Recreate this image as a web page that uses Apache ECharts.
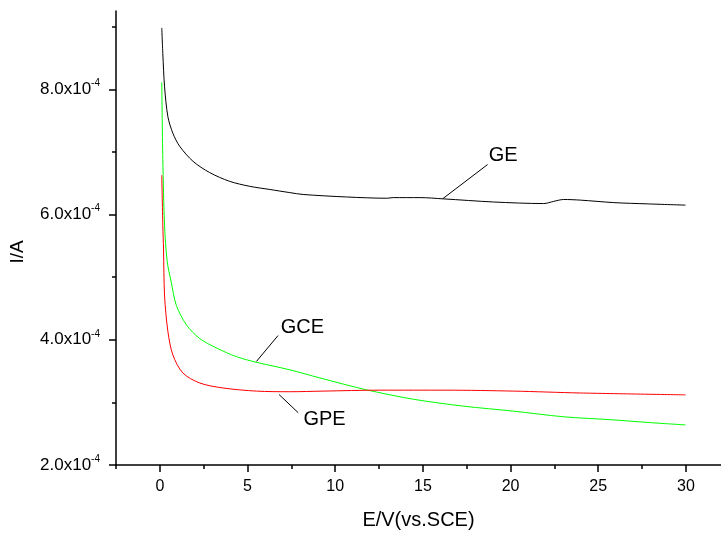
<!DOCTYPE html>
<html>
<head>
<meta charset="utf-8">
<script src="https://cdn.jsdelivr.net/npm/echarts@6/dist/echarts.min.js"></script>
<style>
  html, body { margin: 0; padding: 0; background: #fff; }
  #main { width: 721px; height: 535px; }
</style>
</head>
<body>
<div id="main"></div>
<script>
// curves: [E, I]
const geData = [
  [0.11, 8.98e-4], [0.17, 8.57e-4], [0.27, 8.04e-4], [0.46, 7.56e-4], [0.74, 7.30e-4],
  [1.13, 7.09e-4], [1.89, 6.85e-4], [2.84, 6.67e-4], [3.98, 6.53e-4], [5.13, 6.45e-4],
  [6.27, 6.40e-4], [7.41, 6.35e-4], [8.17, 6.32e-4], [10.65, 6.28e-4], [12.94, 6.26e-4],
  [13.31, 6.27e-4], [14.84, 6.27e-4], [16.17, 6.25e-4], [19.03, 6.20e-4], [21.89, 6.175e-4],
  [22.46, 6.21e-4], [23.03, 6.24e-4], [23.98, 6.23e-4], [25.89, 6.19e-4], [27.79, 6.17e-4],
  [29.98, 6.15e-4]
];
const gceData = [
  [0.11, 8.11e-4], [0.17, 6.88e-4], [0.27, 5.82e-4], [0.42, 5.25e-4], [0.65, 4.92e-4],
  [0.94, 4.55e-4], [1.51, 4.24e-4], [2.27, 4.02e-4], [3.22, 3.87e-4], [4.37, 3.73e-4],
  [5.51, 3.64e-4], [7.41, 3.52e-4], [9.13, 3.39e-4], [11.79, 3.20e-4], [14.46, 3.05e-4],
  [17.31, 2.94e-4], [20.17, 2.86e-4], [23.03, 2.77e-4], [25.89, 2.72e-4], [27.79, 2.68e-4],
  [29.98, 2.64e-4]
];
const gpeData = [
  [0.11, 6.63e-4], [0.17, 5.82e-4], [0.21, 5.45e-4], [0.27, 4.70e-4], [0.46, 4.13e-4],
  [0.74, 3.76e-4], [1.31, 3.47e-4], [2.27, 3.31e-4], [3.60, 3.23e-4], [5.51, 3.18e-4],
  [7.41, 3.17e-4], [9.31, 3.18e-4], [12.55, 3.195e-4], [16.37, 3.195e-4], [20.17, 3.18e-4],
  [23.98, 3.15e-4], [29.98, 3.12e-4]
];

// annotation labels and leader lines
const noteLabels = [[19.58, 6.95e-4, 'GE'], [8.13, 4.20e-4, 'GCE'], [9.39, 2.72e-4, 'GPE']];
const noteLines = [
  [[16.14, 6.254e-4], [18.69, 6.798e-4]],
  [[5.51, 3.655e-4], [6.74, 4.067e-4]],
  [[6.80, 3.125e-4], [7.89, 2.835e-4]]
];

const xMajor = [0, 5, 10, 15, 20, 25, 30];
const xMinor = [-2.5, 2.5, 7.5, 12.5, 17.5, 22.5, 27.5];
const yMajor = [2e-4, 4e-4, 6e-4, 8e-4];
const yMinor = [3e-4, 5e-4, 7e-4, 9e-4];

const font = 'Liberation Sans, Arial, sans-serif';
const chart = echarts.init(document.getElementById('main'));

const lineSeries = (name, data, color) => ({
  name, type: 'line', data, showSymbol: false, symbol: 'none',
  smooth: 0.3,
  lineStyle: { color, width: 1 }, xAxisIndex: 0, yAxisIndex: 0, z: 3
});

chart.setOption({
  animation: false,
  backgroundColor: '#fff',
  grid: { left: 116, top: 11, right: 0, bottom: 67 },
  xAxis: [
    {
      type: 'value', min: -2.5, max: 32, position: 'bottom',
      name: 'E/V(vs.SCE)', nameLocation: 'middle', nameGap: 45,
      nameTextStyle: { fontFamily: font, fontSize: 20, color: '#000' },
      axisLine: { show: true, onZero: false, lineStyle: { color: '#000', width: 1.5 } },
      axisTick: { show: true, length: 7, customValues: xMajor, lineStyle: { color: '#000', width: 1.5 } },
      axisLabel: { customValues: xMajor, margin: 14, fontFamily: font, fontSize: 16, color: '#000' },
      splitLine: { show: false }
    },
    {
      type: 'value', min: -2.5, max: 32, position: 'bottom',
      axisLine: { show: false, onZero: false },
      axisTick: { show: true, length: 4, customValues: xMinor, lineStyle: { color: '#000', width: 1.5 } },
      axisLabel: { show: false },
      splitLine: { show: false }
    }
  ],
  yAxis: [
    {
      type: 'value', min: 2e-4, max: 9.25e-4, position: 'left',
      axisLine: { show: true, onZero: false, lineStyle: { color: '#000', width: 1.5 } },
      axisTick: { show: true, length: 7, customValues: yMajor, lineStyle: { color: '#000', width: 1.5 } },
      axisLabel: {
        customValues: yMajor, margin: 16,
        formatter: v => '{a|' + (v * 1e4).toFixed(1) + 'x10}{b|-4}',
        rich: {
          a: { fontFamily: font, fontSize: 17, lineHeight: 22, color: '#000' },
          b: { fontFamily: font, fontSize: 10, lineHeight: 10, verticalAlign: 'top', color: '#000' }
        }
      },
      splitLine: { show: false }
    },
    {
      type: 'value', min: 2e-4, max: 9.25e-4, position: 'left',
      axisLine: { show: false, onZero: false },
      axisTick: { show: true, length: 4, customValues: yMinor, lineStyle: { color: '#000', width: 1.5 } },
      axisLabel: { show: false },
      splitLine: { show: false }
    }
  ],
  graphic: [{
    type: 'text', x: 18, y: 252, rotation: Math.PI / 2,
    style: { text: 'I/A', font: '19px ' + font, fill: '#000', align: 'center', verticalAlign: 'middle' }
  }],
  series: [
    lineSeries('GE', geData, '#000000'),
    lineSeries('GCE', gceData, '#00ff00'),
    lineSeries('GPE', gpeData, '#ff0000'),
    {
      type: 'scatter', xAxisIndex: 0, yAxisIndex: 0, symbolSize: 0,
      itemStyle: { opacity: 1 },
      data: noteLabels,
      label: {
        show: true, position: 'inside', formatter: p => p.value[2],
        fontFamily: font, fontSize: 20, color: '#000'
      },
      markLine: {
        silent: true, symbol: 'none',
        label: { show: false },
        lineStyle: { color: '#000', width: 1, type: 'solid', opacity: 1 },
        data: noteLines.map(l => [{ coord: l[0] }, { coord: l[1] }])
      },
      z: 4
    }
  ]
});
</script>
</body>
</html>
